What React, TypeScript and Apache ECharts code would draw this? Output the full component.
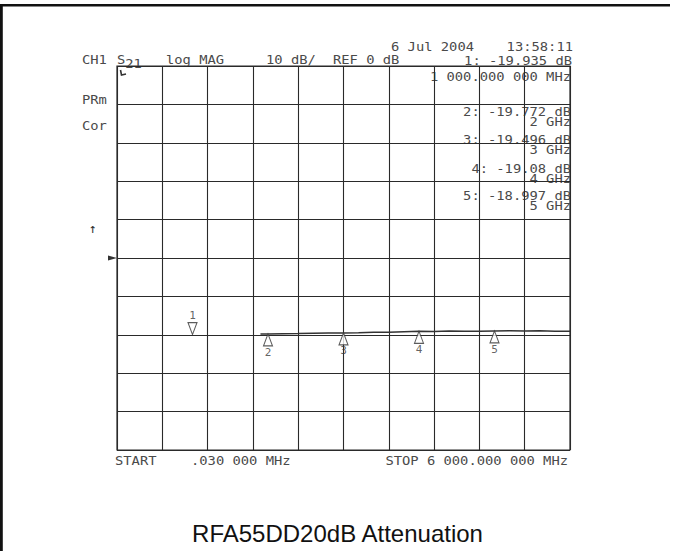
import React, { useEffect, useRef } from "react";
import * as echarts from "echarts";

// ---- data ----
const traceFreqMHz = [1900, 2000, 2200, 2400, 2600, 2800, 3000, 3200, 3400, 3600, 3800, 4000, 4200, 4400, 4600, 4800, 5000, 5200, 5400, 5600, 5800, 6000];
const traceDb = [-19.8, -19.77, -19.72, -19.68, -19.62, -19.55, -19.5, -19.45, -19.32, -19.36, -19.2, -19.08, -19.12, -19.0, -19.06, -19.1, -19.0, -18.92, -19.0, -18.95, -19.05, -19.1];

const markerIds = ["1", "2", "3", "4", "5"];
const markerFreqMHz = [1000, 2000, 3000, 4000, 5000];
const markerDb = [-19.935, -19.772, -19.496, -19.08, -18.997];
const markerReadouts = ["-19.935", "-19.772", "-19.496", "-19.08", "-18.997"];
const markerFreqLabels = ["1 000.000 000 MHz", "2 GHz", "3 GHz", "4 GHz", "5 GHz"];

const xMin = 0;
const xMax = 6000;
const xStep = 600;
const yMin = -50;
const yMax = 50;
const yStep = 10;

const titleText = "RFA55DD20dB Attenuation";
const headerLeft = ["CH1", "log MAG", "10 dB/", "REF 0 dB"];
const headerDate = "6 Jul 2004";
const headerTime = "13:58:11";
const leftNotes = ["PRm", "Cor"];
const startText = "START";
const startFreq = ".030 000 MHz";
const stopText = "STOP 6 000.000 000 MHz";

// ---- layout ----
const GL = 117, GT = 66, GW = 453, GH = 384;
const MONO = "DejaVu Sans Mono";
const TXT = "#4a4a4a";

function T(text: string, x: number, y: number, align: string = "left", size = 11.5, extra: any = {}) {
  return {
    type: "text",
    x,
    y,
    scaleX: 1.2,
    silent: true,
    style: {
      text,
      fill: TXT,
      fontFamily: MONO,
      fontSize: size,
      align,
      verticalAlign: "middle",
      ...extra,
    },
  };
}

export default function App() {
  const ref = useRef<HTMLDivElement>(null);
  useEffect(() => {
    if (!ref.current) return;
    const chart = echarts.init(ref.current, undefined, { renderer: "svg" });
    const downTri = "path://M0,0L10,0L5,12Z";
    const upTri = "path://M5,0L10,12L0,12Z";
    const R = GL + GW + 1;
    const rowsY = [112, 140, 169, 196];
    const graphic: any[] = [
      // frame
      { type: "rect", shape: { x: 0, y: 4, width: 670, height: 2.6 }, style: { fill: "#111" }, silent: true },
      { type: "rect", shape: { x: 0, y: 4, width: 2.8, height: 560 }, style: { fill: "#111" }, silent: true },
      // header
      T(headerLeft[0], 82, 60),
      {
        type: "text",
        x: 117,
        y: 55,
        scaleX: 1.2,
        silent: true,
        style: {
          text: "{a|S}{b|21}",
          fill: TXT,
          fontFamily: MONO,
          fontSize: 11.5,
          align: "left",
          verticalAlign: "top",
          rich: {
            a: { fontFamily: MONO, fontSize: 11.5, fill: TXT, lineHeight: 13, padding: [0, 0, 4, 0] },
            b: { fontFamily: MONO, fontSize: 11.5, fill: TXT, lineHeight: 13, padding: [4, 0, 0, 0] },
          },
        },
      },
      T(headerLeft[1], 166, 60),
      T(headerLeft[2], 266, 60),
      T(headerLeft[3], 333, 60),
      T(headerDate, 391, 47),
      T(headerTime, 573, 47, "right"),
      T(`1: ${markerReadouts[0]} dB`, 572, 61, "right"),
      T(leftNotes[0], 82, 100),
      T(leftNotes[1], 82, 126),
      { type: "text", x: 93, y: 228, silent: true, style: { text: "↑", fill: "#333", fontFamily: MONO, fontSize: 13, align: "center", verticalAlign: "middle" } },
      // reference level pointer
      { type: "polygon", silent: true, shape: { points: [[108, GT + GH / 2 - 2.5], [108, GT + GH / 2 + 2.5], [117, GT + GH / 2]] }, style: { fill: "#333" } },
      // small mark top-left of graticule
      { type: "polyline", silent: true, shape: { points: [[120.5, 70], [121.5, 75], [126, 74]] }, style: { stroke: "#333", lineWidth: 1.6, fill: "none" } },
      // marker readout
      T(markerFreqLabels[0], R, 77, "right"),
      // bottom
      T(startText, 115, 461),
      T(startFreq, 191, 461),
      T(stopText, R - 3, 461, "right"),
    ];
    for (let i = 1; i < 5; i++) {
      graphic.push(T(`${markerIds[i]}: ${markerReadouts[i]} dB`, R, rowsY[i - 1], "right"));
      graphic.push(T(markerFreqLabels[i], R, rowsY[i - 1] + 10, "right"));
    }

    chart.setOption({
      animation: false,
      backgroundColor: "#ffffff",
      title: {
        text: titleText,
        left: "center",
        top: 516,
        textStyle: { fontFamily: "Liberation Sans", fontSize: 24, fontWeight: "normal", color: "#111" },
      },
      grid: { left: GL, top: GT, width: GW, height: GH, show: true, borderColor: "#2a2a2a", borderWidth: 1.2, backgroundColor: "transparent" },
      xAxis: {
        type: "value",
        min: xMin,
        max: xMax,
        interval: xStep,
        axisLine: { show: false },
        axisTick: { show: false },
        axisLabel: { show: false },
        splitLine: { show: true, lineStyle: { color: "#2a2a2a", width: 1.1 } },
      },
      yAxis: {
        type: "value",
        min: yMin,
        max: yMax,
        interval: yStep,
        axisLine: { show: false },
        axisTick: { show: false },
        axisLabel: { show: false },
        splitLine: { show: true, lineStyle: { color: "#2a2a2a", width: 1.1 } },
      },
      series: [
        {
          type: "line",
          data: traceFreqMHz.map((f, i) => [f, traceDb[i]]),
          showSymbol: false,
          lineStyle: { color: "#333", width: 1.5 },
          z: 3,
          silent: true,
        },
        {
          type: "scatter",
          z: 4,
          silent: true,
          data: markerFreqMHz.map((f, i) => ({
            value: [f, markerDb[i]],
            symbol: i === 0 ? downTri : upTri,
            symbolSize: [9, 12],
            symbolOffset: i === 0 ? [0, "-50%"] : [0, "50%"],
            label: {
              show: true,
              formatter: markerIds[i],
              position: i === 0 ? "top" : "bottom",
              distance: i === 0 ? 1 : 0,
              fontFamily: MONO,
              fontSize: 11,
              color: "#3a3a3a",
            },
          })),
          itemStyle: { color: "#ffffff", borderColor: "#333", borderWidth: 1.1 },
        },
      ],
      graphic,
    });
    return () => chart.dispose();
  }, []);
  return <div ref={ref} style={{ position: "fixed", left: 0, top: 0, width: 675, height: 551, background: "#fff" }} />;
}
